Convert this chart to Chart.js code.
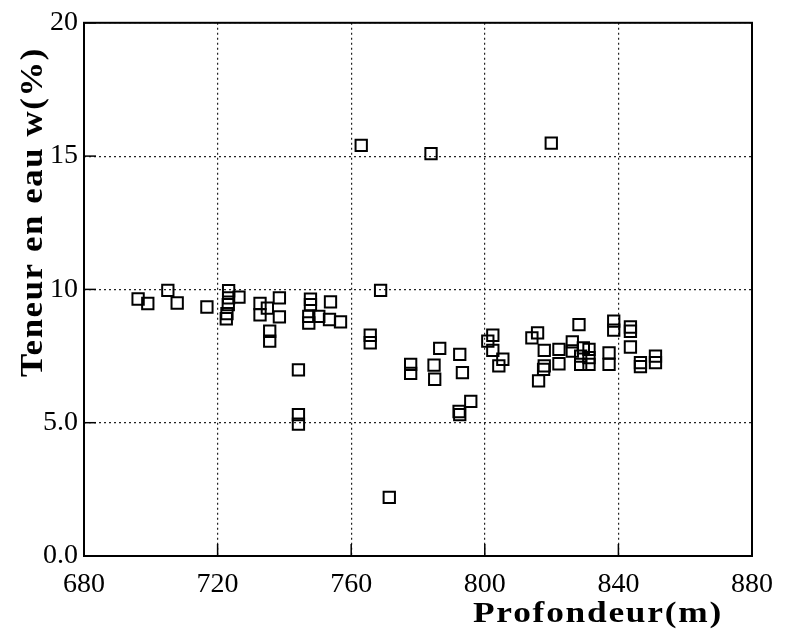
<!DOCTYPE html>
<html>
<head>
<meta charset="utf-8">
<script src="https://cdn.jsdelivr.net/npm/chart.js@4"></script>
<style>
  html, body { margin: 0; padding: 0; background: #ffffff; }
  #c { display: block; }
</style>
</head>
<body>
<canvas id="c" width="785" height="631"></canvas>
<script>
// ---- data ----
const depth = [
  696.2, 699.1, 705.1, 707.9, 716.8,
  723.3, 723.3, 723.2, 722.8, 722.6,
  726.4, 732.7, 732.7, 734.9, 738.5, 738.5, 735.6, 735.6,
  744.2, 744.2, 744.2,
  747.8, 747.8, 753.8, 747.3, 747.3, 750.3, 753.5, 756.8,
  763.0, 765.7, 765.7, 768.8, 771.4,
  777.8, 777.8, 783.9, 784.8, 785.0, 786.5,
  792.5, 793.3, 795.8, 792.3, 792.5,
  802.4, 800.9, 802.4, 805.4, 804.2,
  815.8, 814.1, 817.8, 817.8, 817.6, 816.1, 819.9,
  822.2, 822.2, 828.2, 826.2, 826.2, 829.5,
  828.7, 828.7, 831.2, 831.2, 831.2,
  837.2, 837.2, 838.6, 838.6,
  843.6, 843.6, 843.6,
  846.6, 846.6, 851.1, 851.1
];
const water = [
  9.64, 9.47, 9.96, 9.49, 9.34,
  9.95, 9.68, 9.43, 9.09, 8.90,
  9.71, 9.47, 9.05, 9.30, 9.68, 8.97, 8.43, 8.06,
  6.98, 5.30, 4.95,
  9.63, 9.43, 9.53, 8.99, 8.74, 8.99, 8.87, 8.78,
  15.40, 8.28, 8.00, 9.96, 2.20,
  7.19, 6.85, 15.09, 7.16, 6.63, 7.79,
  7.56, 6.88, 5.80, 5.42, 5.30,
  8.28, 8.06, 7.71, 7.38, 7.13,
  8.37, 8.18, 7.71, 7.13, 7.00, 6.57, 15.49,
  7.75, 7.21, 8.68, 8.03, 7.69, 7.81,
  7.50, 7.19, 7.75, 7.44, 7.19,
  7.62, 7.19, 8.81, 8.47,
  8.59, 8.43, 7.84,
  7.25, 7.10, 7.50, 7.25
];
const xTickValues = [680, 720, 760, 800, 840, 880];
const yTickLabels = ['0.0', '5.0', '10', '15', '20'];
const yTickValues = [0, 5, 10, 15, 20];
const xTitle = 'Profondeur(m)';
const yTitle = 'Teneur en eau w(%)';

const SERIF = '"Liberation Serif", "Times New Roman", Tinos, Times, serif';

const points = depth.map((d, i) => ({ x: d, y: water[i] }));

function fitText(ctx, text, cx, baseline, targetW) {
  const w = ctx.measureText(text).width;
  const k = targetW / w;
  ctx.save();
  ctx.translate(cx, baseline);
  ctx.scale(k, 1);
  ctx.textAlign = 'center';
  ctx.textBaseline = 'alphabetic';
  ctx.fillText(text, 0, 0);
  ctx.restore();
}

const frameAndTitles = {
  id: 'frameAndTitles',
  afterDraw(chart) {
    const ctx = chart.ctx;
    const a = chart.chartArea;
    const xs = chart.scales.x, ys = chart.scales.y;
    ctx.save();
    ctx.strokeStyle = '#000';
    ctx.lineWidth = 2;
    ctx.setLineDash([]);
    ctx.strokeRect(a.left, a.top, a.right - a.left, a.bottom - a.top);
    ctx.lineWidth = 1.5;
    yTickValues.forEach(v => {
      const p = ys.getPixelForValue(v);
      ctx.beginPath(); ctx.moveTo(a.left, p); ctx.lineTo(a.left + 12, p); ctx.stroke();
    });
    xTickValues.forEach(v => {
      const p = xs.getPixelForValue(v);
      ctx.beginPath(); ctx.moveTo(p, a.bottom); ctx.lineTo(p, a.bottom - 12); ctx.stroke();
    });
    ctx.fillStyle = '#000';
    ctx.font = 'bold 30px ' + SERIF;
    try { ctx.letterSpacing = '1.5px'; } catch (e) {}
    fitText(ctx, xTitle, 598, 622, 250);
    ctx.font = 'bold 32px ' + SERIF;
    try { ctx.letterSpacing = '1.5px'; } catch (e) {}
    ctx.translate(42, 212);
    ctx.rotate(-Math.PI / 2);
    fitText(ctx, yTitle, 0, 0, 330);
    ctx.restore();
  }
};

function build() {
  new Chart(document.getElementById('c'), {
    type: 'scatter',
    data: {
      datasets: [{
        data: points,
        pointStyle: 'rect',
        pointRadius: 8,
        pointHoverRadius: 8,
        borderColor: '#000',
        backgroundColor: 'rgba(0,0,0,0)',
        pointBorderWidth: 2,
        borderWidth: 2
      }]
    },
    options: {
      responsive: false,
      animation: false,
      devicePixelRatio: 1,
      layout: { padding: { left: 0, right: 28, top: 20, bottom: 0 } },
      plugins: {
        legend: { display: false },
        tooltip: { enabled: false },
        title: { display: false }
      },
      scales: {
        x: {
          type: 'linear',
          min: 680, max: 880,
          afterBuildTicks: s => { s.ticks = xTickValues.map(v => ({ value: v })); },
          afterFit: s => { s.height = 75; },
          ticks: {
            color: '#000',
            padding: 12,
            font: { family: SERIF, size: 28 },
            callback: v => String(v)
          },
          grid: { color: '#222', lineWidth: 1.2, drawTicks: false },
          border: { display: false, dash: [2, 3] },
          title: { display: false }
        },
        y: {
          type: 'linear',
          min: 0, max: 20,
          afterBuildTicks: s => { s.ticks = yTickValues.map(v => ({ value: v })); },
          afterFit: s => { s.width = 84; },
          ticks: {
            color: '#000',
            padding: 6,
            font: { family: SERIF, size: 28 },
            callback: v => yTickLabels[yTickValues.indexOf(v)]
          },
          grid: { color: '#222', lineWidth: 1.2, drawTicks: false },
          border: { display: false, dash: [2, 3] },
          title: { display: false }
        }
      }
    },
    plugins: [frameAndTitles]
  });
}

const loads = (document.fonts && document.fonts.load)
  ? Promise.all([
      document.fonts.load('28px "Liberation Serif"'),
      document.fonts.load('bold 30px "Liberation Serif"')
    ]).catch(() => null)
  : Promise.resolve();
loads.then(build, build);
</script>
</body>
</html>
